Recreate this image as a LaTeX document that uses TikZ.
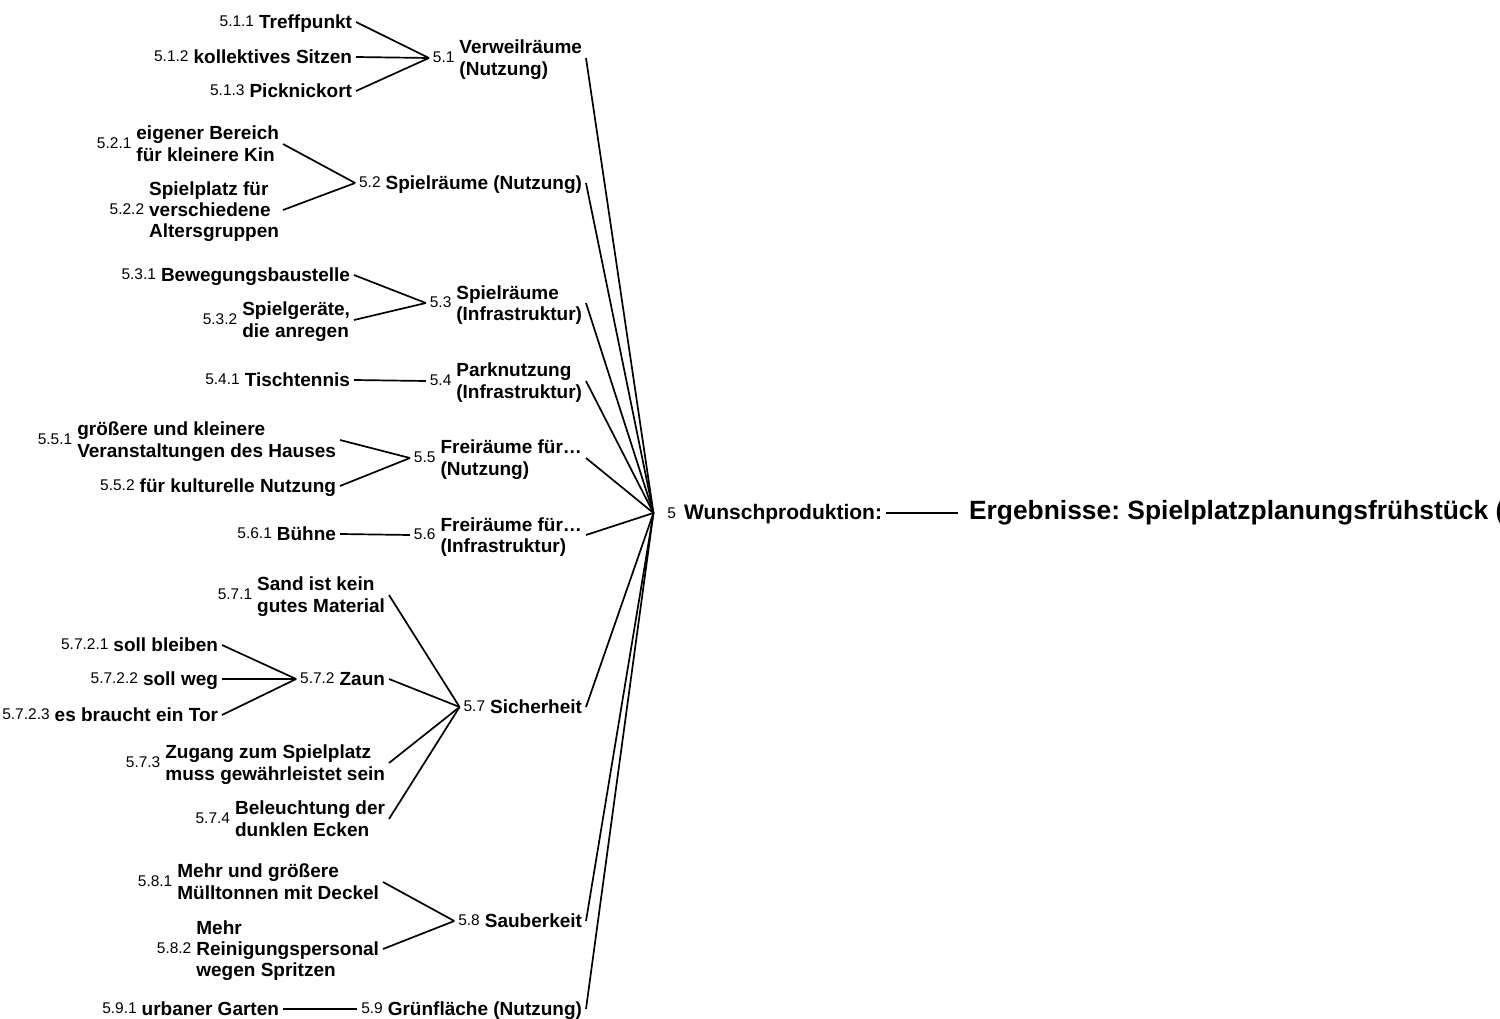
\documentclass[tikz,border=0pt]{standalone}
\usepackage{fontspec}
\usepackage{array}
\setmainfont{Liberation Sans}
\frenchspacing

% number prefix in regular weight, label text in bold (left-aligned lines)
\newcommand\numtxt[1]{{\fontsize{15.5}{18}\selectfont\mdseries #1}}
\renewcommand\arraystretch{0.6}
\newcolumntype{L}{>{\rule[-4pt]{0pt}{21.3pt}}l}
\newcommand\lab[2]{\numtxt{#1}\hspace{5pt}\begin{tabular}{@{}L@{}}#2\end{tabular}}

\tikzset{
  item/.style={anchor=east, inner xsep=4pt, inner ysep=1pt, outer sep=0pt,
               font=\fontsize{19}{21.5}\selectfont\bfseries},
  link/.style={draw, line width=1.7pt},
}

\begin{document}
\begin{tikzpicture}[x=1pt, y=-1pt]
\useasboundingbox (0,0) rectangle (1500,1019);
\clip (0,0) rectangle (1500,1019);

% central topic and first level
\node[anchor=west, inner xsep=11pt, outer sep=0pt,
      font=\fontsize{26.4}{30}\selectfont\bfseries] (root) at (958,513)
      {\begin{tabular}{@{}L@{}}Ergebnisse: Spielplatzplanungsfrühstück (\end{tabular}};
\node[item, font=\fontsize{21}{24}\selectfont\bfseries] (n5) at (886,513)
      {\hspace{10pt}\numtxt{5}\hspace{8pt}\begin{tabular}{@{}L@{}}Wunschproduktion:\end{tabular}};

% second level, right-aligned
\node[item] (n51) at (586,58)  {\lab{5.1}{Verweilräume\\(Nutzung)}};
\node[item] (n52) at (586,183) {\lab{5.2}{Spielräume (Nutzung)}};
\node[item] (n53) at (586,303) {\lab{5.3}{Spielräume\\(Infrastruktur)}};
\node[item] (n54) at (586,381) {\lab{5.4}{Parknutzung\\(Infrastruktur)}};
\node[item] (n55) at (586,458) {\lab{5.5}{Freiräume für…\\(Nutzung)}};
\node[item] (n56) at (586,535) {\lab{5.6}{Freiräume für…\\(Infrastruktur)}};
\node[item] (n57) at (586,707) {\lab{5.7}{Sicherheit}};
\node[item] (n58) at (586,921) {\lab{5.8}{Sauberkeit}};
\node[item] (n59) at (586,1009) {\lab{5.9}{Grünfläche (Nutzung)}};

% third level
\node[item] (n511) at (356,22)  {\lab{5.1.1}{Treffpunkt}};
\node[item] (n512) at (356,57)  {\lab{5.1.2}{kollektives Sitzen}};
\node[item] (n513) at (356,91)  {\lab{5.1.3}{Picknickort}};

\node[item] (n521) at (283,144) {\lab{5.2.1}{eigener Bereich\\für kleinere Kin}};
\node[item] (n522) at (283,210) {\lab{5.2.2}{Spielplatz für\\verschiedene\\Altersgruppen}};

\node[item] (n531) at (354,275) {\lab{5.3.1}{Bewegungsbaustelle}};
\node[item] (n532) at (354,320) {\lab{5.3.2}{Spielgeräte,\\die anregen}};

\node[item] (n541) at (354,380) {\lab{5.4.1}{Tischtennis}};

\node[item] (n551) at (340,440) {\lab{5.5.1}{größere und kleinere\\Veranstaltungen des Hauses}};
\node[item] (n552) at (340,486) {\lab{5.5.2}{für kulturelle Nutzung}};

\node[item] (n561) at (340,534) {\lab{5.6.1}{Bühne}};

\node[item] (n571) at (389,595) {\lab{5.7.1}{Sand ist kein\\gutes Material}};
\node[item] (n572) at (389,679) {\lab{5.7.2}{Zaun}};
\node[item] (n573) at (389,763) {\lab{5.7.3}{Zugang zum Spielplatz\\muss gewährleistet sein}};
\node[item] (n574) at (389,819) {\lab{5.7.4}{Beleuchtung der\\dunklen Ecken}};

% fourth level under 5.7.2
\node[item] (n5721) at (222,645) {\lab{5.7.2.1}{soll bleiben}};
\node[item] (n5722) at (222,679) {\lab{5.7.2.2}{soll weg}};
\node[item] (n5723) at (222,715) {\lab{5.7.2.3}{es braucht ein Tor}};

\node[item] (n581) at (383,882) {\lab{5.8.1}{Mehr und größere\\Mülltonnen mit Deckel}};
\node[item] (n582) at (383,949) {\lab{5.8.2}{Mehr\\Reinigungspersonal\\wegen Spritzen}};

\node[item] (n591) at (283,1009) {\lab{5.9.1}{urbaner Garten}};

% connectors
\draw[link] (n5.east) -- (root.west);
\foreach \k in {1,...,9}
  \draw[link] (n5\k.east) -- (n5.west);
\foreach \c in {1,2,3} \draw[link] (n51\c.east) -- (n51.west);
\foreach \c in {1,2}   \draw[link] (n52\c.east) -- (n52.west);
\foreach \c in {1,2}   \draw[link] (n53\c.east) -- (n53.west);
\draw[link] (n541.east) -- (n54.west);
\foreach \c in {1,2}   \draw[link] (n55\c.east) -- (n55.west);
\draw[link] (n561.east) -- (n56.west);
\foreach \c in {1,2,3,4} \draw[link] (n57\c.east) -- (n57.west);
\foreach \c in {1,2,3} \draw[link] (n572\c.east) -- (n572.west);
\foreach \c in {1,2}   \draw[link] (n58\c.east) -- (n58.west);
\draw[link] (n591.east) -- (n59.west);
\end{tikzpicture}
\end{document}
